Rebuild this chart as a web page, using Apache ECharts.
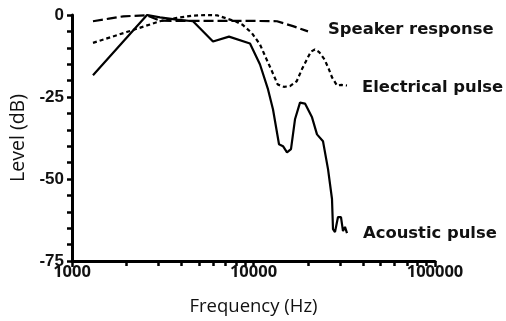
<!DOCTYPE html>
<html>
<head>
<meta charset="utf-8">
<script src="https://cdn.jsdelivr.net/npm/echarts@6/dist/echarts.min.js"></script>
<style>
  html, body { margin: 0; padding: 0; background: #fff; }
  #chart { width: 506px; height: 321px; }
</style>
</head>
<body>
<div id="chart"></div>
<script>
// Frequency response of the speaker, the driving electrical pulse and the recorded acoustic pulse
const speakerFreq  = [1305, 1600, 1920, 2590, 3050, 3700, 5000, 10000, 13480, 16500, 19960];
const speakerLevel = [-1.9, -1.1, -0.4, -0.1, -1.7, -1.8, -1.8, -1.8, -1.9, -3.4, -5.0];

const electricalFreq  = [1305, 2000, 3050, 3780, 4600, 5500, 6300, 7140, 8000, 8720, 9800, 10860, 11800, 12630, 13600, 14700, 15880, 17300, 18500, 19670, 20700, 21780, 23000, 24650, 26000, 27070, 28850, 30500, 32740];
const electricalLevel = [-8.5, -5.2, -1.9, -0.9, -0.2, 0, -0.1, -1.1, -2.0, -3.0, -5.5, -9.0, -13.5, -17.1, -21.2, -21.9, -21.7, -20.2, -16.5, -13.6, -11.2, -10.5, -11.3, -13.6, -16.5, -19.0, -21.5, -21.3, -21.5];

const acousticFreq  = [1305, 2590, 3053, 3775, 4642, 5982, 7328, 9566, 10860, 12025, 12810, 13820, 14540, 15295, 16090, 16930, 18040, 19220, 21010, 22380, 24150, 25740, 27070, 27420, 28120, 29210, 30340, 31120, 31920, 32740];
const acousticLevel = [-18.4, 0, -0.7, -1.4, -1.9, -8.1, -6.6, -8.7, -15.1, -22.7, -28.8, -39.4, -40.0, -41.9, -40.9, -31.8, -26.7, -27.0, -31.2, -36.4, -38.5, -47.0, -56.1, -65.3, -66.2, -61.6, -61.6, -65.9, -64.6, -66.5];

const seriesNames = ['Speaker response', 'Electrical pulse', 'Acoustic pulse'];

const majorFreqTicks = [1000, 10000, 100000];
const minorFreqTicks = [2000, 3000, 4000, 5000, 6000, 7000, 8000, 9000,
                        20000, 30000, 40000, 50000, 60000, 70000, 80000, 90000];
const levelTicks = [-75, -50, -25, 0];

const pairs = (xs, ys) => xs.map((x, i) => [x, ys[i]]);

const labelFont = {
  fontFamily: 'DejaVu Sans', fontWeight: 'bold', fontSize: 16.4, color: '#111'
};

function curve(name, xs, ys, lineType, dist, dy) {
  return {
    name: name,
    type: 'line',
    xAxisIndex: 0,
    yAxisIndex: 0,
    data: pairs(xs, ys),
    showSymbol: false,
    symbol: 'none',
    smooth: false,
    lineStyle: { color: '#000', width: 2.2, type: lineType, cap: 'butt' },
    endLabel: Object.assign({
      show: true,
      formatter: name,
      distance: dist,
      offset: [0, dy]
    }, labelFont),
    animation: false
  };
}

// the same plot box twice: the second one only carries the short frequency ticks
const plotBox = { left: 72, right: 71, top: 15, bottom: 59 };

const chart = echarts.init(document.getElementById('chart'), null, { renderer: 'canvas' });
chart.setOption({
  animation: false,
  backgroundColor: '#fff',
  grid: [Object.assign({}, plotBox), Object.assign({}, plotBox)],
  xAxis: [
    {
      gridIndex: 0,
      type: 'log',
      logBase: 10,
      min: 1000,
      max: 100000,
      name: 'Frequency (Hz)',
      nameLocation: 'middle',
      nameGap: 36,
      nameTextStyle: { fontFamily: 'Open Sans', fontSize: 18.5, color: '#111' },
      axisLine: { show: true, onZero: false, lineStyle: { color: '#000', width: 3 } },
      axisTick: { show: true, length: 6, lineStyle: { color: '#000', width: 2.5 }, customValues: majorFreqTicks },
      axisLabel: {
        customValues: majorFreqTicks,
        margin: 3,
        fontFamily: 'Open Sans', fontWeight: 'bold', fontSize: 16.5, color: '#111',
        formatter: v => String(Math.round(v))
      },
      splitLine: { show: false }
    },
    {
      gridIndex: 1,
      type: 'log',
      logBase: 10,
      min: 1000,
      max: 100000,
      position: 'bottom',
      axisLine: { show: false, onZero: false },
      axisTick: { show: true, length: 4, lineStyle: { color: '#000', width: 2.5 }, customValues: minorFreqTicks },
      axisLabel: { show: false },
      splitLine: { show: false }
    }
  ],
  yAxis: [
    {
      gridIndex: 0,
      type: 'value',
      min: -75,
      max: 0,
      interval: 25,
      name: 'Level (dB)',
      nameLocation: 'middle',
      nameGap: 42,
      nameRotate: 90,
      nameTextStyle: { fontFamily: 'Open Sans', fontSize: 19.5, color: '#111' },
      axisLine: { show: true, onZero: false, lineStyle: { color: '#000', width: 3 } },
      axisTick: { show: true, length: 5, lineStyle: { color: '#000', width: 2.5 } },
      minorTick: { show: true, splitNumber: 5, length: 5, lineStyle: { color: '#000', width: 2.5 } },
      axisLabel: {
        margin: 8,
        fontFamily: 'Liberation Sans', fontWeight: 'bold', fontSize: 17, color: '#111',
        formatter: v => levelTicks.indexOf(v) >= 0 ? String(v) : ''
      },
      splitLine: { show: false }
    },
    {
      gridIndex: 1,
      type: 'value',
      min: -75,
      max: 0,
      show: false
    }
  ],
  series: [
    curve(seriesNames[0], speakerFreq, speakerLevel, [10, 4], 20, -2),
    curve(seriesNames[1], electricalFreq, electricalLevel, [4, 3], 15, 2),
    curve(seriesNames[2], acousticFreq, acousticLevel, 'solid', 16, 1)
  ]
});
</script>
</body>
</html>
